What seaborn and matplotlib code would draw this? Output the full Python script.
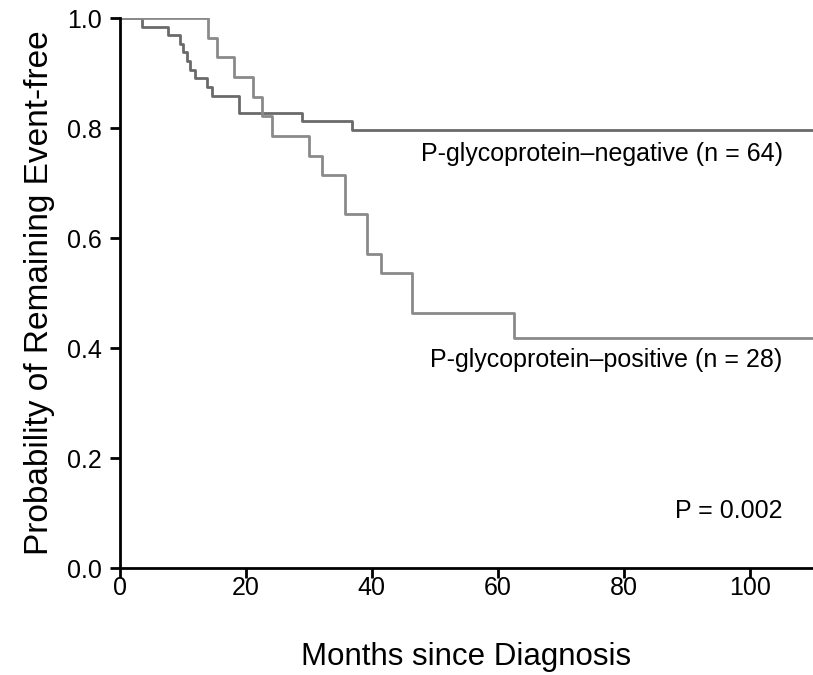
import matplotlib
matplotlib.use('Agg')
import matplotlib.pyplot as plt
import seaborn as sns
import pandas as pd

# ==========================================
# data
# ==========================================
neg_months = [0, 3.5, 7.7, 9.6, 10.0, 10.7, 11.2, 12.0, 13.8, 14.6, 18.9, 28.9, 36.9, 110]
neg_surv = [1.0, 0.984, 0.969, 0.953, 0.938, 0.922, 0.906, 0.891, 0.875, 0.859, 0.828, 0.812, 0.797, 0.797]

pos_months = [0, 14.1, 15.4, 18.1, 21.2, 22.6, 24.2, 30.0, 32.1, 35.8, 39.2, 41.4, 46.4, 62.5, 110]
pos_surv = [1.0, 0.964, 0.929, 0.893, 0.857, 0.821, 0.786, 0.750, 0.714, 0.643, 0.571, 0.536, 0.464, 0.418, 0.418]

x_ticks = [0, 20, 40, 60, 80, 100]
y_ticks = [0.0, 0.2, 0.4, 0.6, 0.8, 1.0]

neg_label = 'P-glycoprotein\u2013negative (n = 64)'
pos_label = 'P-glycoprotein\u2013positive (n = 28)'
p_text = 'P = 0.002'

df_neg = pd.DataFrame({'months': neg_months, 'surv': neg_surv})
df_pos = pd.DataFrame({'months': pos_months, 'surv': pos_surv})

sns.set_style('ticks')
plt.rcParams['font.family'] = ['Liberation Sans', 'DejaVu Sans']
plt.rcParams['text.color'] = 'black'
plt.rcParams['axes.labelcolor'] = 'black'

fig = plt.figure(figsize=(8.13, 6.75), dpi=100)
ax = fig.add_axes([119.5 / 813, 1 - 568 / 675, (813 - 119.5) / 813, 550 / 675])

sns.lineplot(data=df_neg, x='months', y='surv', ax=ax, drawstyle='steps-post',
             estimator=None, color='#6a6a6a', linewidth=2.0)
sns.lineplot(data=df_pos, x='months', y='surv', ax=ax, drawstyle='steps-post',
             estimator=None, color='#8a8a8a', linewidth=2.0)

ax.set_xlim(0, 110)
ax.set_ylim(0, 1.0)
ax.set_xticks(x_ticks)
ax.set_yticks(y_ticks)
ax.set_yticklabels([f'{v:.1f}' for v in y_ticks])
ax.tick_params(direction='out', length=7, width=2, labelsize=18, colors='black')
ax.tick_params(axis='x', pad=-1)
ax.tick_params(axis='y', pad=6)

for side in ['top', 'right']:
    ax.spines[side].set_visible(False)
for side in ['left', 'bottom']:
    ax.spines[side].set_linewidth(2)
    ax.spines[side].set_color('black')

ax.set_xlabel('Months since Diagnosis', fontsize=22.5, labelpad=30)
ax.set_ylabel('Probability of Remaining Event-free', fontsize=24, labelpad=8)

ax.text(105.2, 0.753, neg_label, ha='right', va='center', fontsize=18)
ax.text(105.2, 0.378, pos_label, ha='right', va='center', fontsize=18)
ax.text(105.2, 0.104, p_text, ha='right', va='center', fontsize=18)

fig.savefig('out.png', dpi=100)
